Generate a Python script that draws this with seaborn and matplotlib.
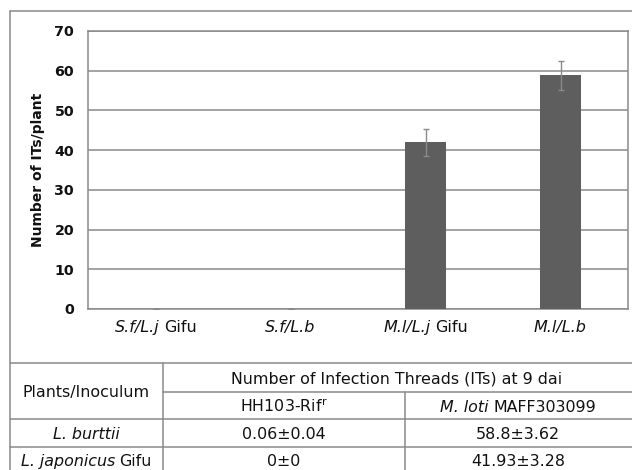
import matplotlib
matplotlib.use("Agg")
import matplotlib.pyplot as plt
import seaborn as sns
import pandas as pd
from matplotlib.lines import Line2D

categories = ["S.f/L.j Gifu", "S.f/L.b", "M.l/L.j Gifu", "M.l/L.b"]
# tick labels as (italic part, regular part)
tick_parts = [("S.f/L.j", "Gifu"), ("S.f/L.b", ""), ("M.l/L.j", "Gifu"), ("M.l/L.b", "")]
values = [0.0, 0.06, 41.93, 58.8]
errors = [0.0, 0.04, 3.28, 3.62]
yticks = [0, 10, 20, 30, 40, 50, 60, 70]

table_header = "Plants/Inoculum"
table_title = "Number of Infection Threads (ITs) at 9 dai"
strain_parts = [[("HH103-Rif", "normal")], [("M. loti", "italic"), (" MAFF303099", "normal")]]
plant_parts = [[("L. burttii", "italic")], [("L. japonicus", "italic"), (" Gifu", "normal")]]
cells = [["0.06±0.04", "58.8±3.62"], ["0±0", "41.93±3.28"]]

sns.set_style("white")
plt.rcParams["font.family"] = ["DejaVu Sans"]

W, H = 632, 470
fig = plt.figure(figsize=(W / 100, H / 100), dpi=100)
renderer = fig.canvas.get_renderer()
TXT = "#111111"

def fx(px):
    return px / W

def fy(py):
    return 1 - py / H

ax = fig.add_axes([fx(88), fy(309), fx(628) - fx(88), fy(31) - fy(309)])
df = pd.DataFrame({"cat": categories, "val": values})
sns.barplot(data=df, x="cat", y="val", color="#5e5e5e", saturation=1,
            width=0.31, ax=ax, errorbar=None, zorder=3, linewidth=0, edgecolor="none")
ax.errorbar(range(len(categories)), values, yerr=errors, fmt="none",
            ecolor="#8a8a8a", elinewidth=1, capsize=2.5, capthick=1, zorder=4)

ax.set_ylim(0, 70)
ax.set_xlim(-0.5, len(categories) - 0.5)
ax.set_yticks(yticks)
ax.set_yticklabels([str(t) for t in yticks], fontsize=10.3, fontweight="bold", color=TXT)
ax.set_xticks(range(len(categories)))
ax.set_xticklabels([])
ax.tick_params(axis="x", length=0)
ax.tick_params(axis="y", length=0, pad=10)
ax.yaxis.grid(True, color="#8a8a8a", linewidth=1.1, zorder=0)
ax.set_axisbelow(True)
for s in ax.spines.values():
    s.set_color("#8a8a8a")
    s.set_linewidth(1.1)
ax.set_xlabel("")
ax.set_ylabel("Number of ITs/plant", fontsize=10, fontweight="bold", color=TXT, labelpad=7)


def space_width(size, style):
    a = fig.text(0, 0, "aa", fontsize=size, style=style)
    b = fig.text(0, 0, "a a", fontsize=size, style=style)
    w = b.get_window_extent(renderer).width - a.get_window_extent(renderer).width
    a.remove(); b.remove()
    return w


def mixed(xc, yb, parts, size):
    """Draw text parts centred horizontally at pixel xc, baseline at pixel yb (from top)."""
    items = []
    total = 0.0
    for txt, style in parts:
        lead = len(txt) - len(txt.lstrip(" "))
        core = txt.strip(" ")
        gap = lead * space_width(size, style)
        if lead:
            gap -= 0.7
        t = fig.text(0, 0, core, fontsize=size, style=style, color=TXT,
                     ha="left", va="baseline")
        w = t.get_window_extent(renderer).width
        items.append((t, gap, w))
        total += gap + w
    x = xc - total / 2
    for t, gap, w in items:
        x += gap
        t.set_position((fx(x), fy(yb)))
        x += w


# x tick labels
for i, (it, reg) in enumerate(tick_parts):
    xp = ax.transData.transform((i, 0))[0]
    parts = [(it, "italic")]
    if reg:
        parts.append((" " + reg, "normal"))
    mixed(xp, 332, parts, 11.5)

lc = "#8a8a8a"
def hline(y, x0, x1):
    fig.add_artist(Line2D([fx(x0), fx(x1)], [fy(y), fy(y)], color=lc, lw=1.1))

def vline(x, y0, y1):
    fig.add_artist(Line2D([fx(x), fx(x)], [fy(y0), fy(y1)], color=lc, lw=1.1))

# outer frame
hline(11, 10, 632)
vline(10, 11, 470)
# table grid
hline(363, 10, 632)
vline(163, 363, 470)
hline(392, 163, 632)
vline(405, 392, 470)
hline(419, 10, 632)
hline(447, 10, 632)

ts = 11.4
tk = dict(fontsize=ts, color=TXT, ha="center", va="baseline")
fig.text(fx(86), fy(397.5), table_header, **tk)
fig.text(fx(397), fy(383), table_title, **tk)
fig.text(fx(284), fy(412), r"HH103-Rif$^{\mathregular{r}}$", **tk)
mixed(518, 412, strain_parts[1], ts)
rows_y = [439, 466]
for i, p in enumerate(plant_parts):
    mixed(86, rows_y[i], p, ts)
    fig.text(fx(284), fy(rows_y[i]), cells[i][0], **tk)
    fig.text(fx(518), fy(rows_y[i]), cells[i][1], **tk)

fig.savefig("out.png", dpi=100, facecolor="white")
